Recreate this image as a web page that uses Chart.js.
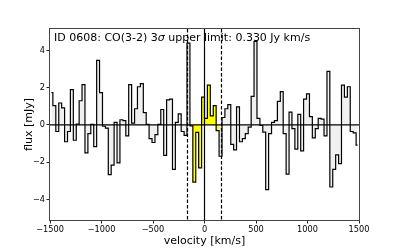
<!DOCTYPE html>
<html>
<head>
<meta charset="utf-8">
<script src="https://cdn.jsdelivr.net/npm/chart.js@4"></script>
<style>
  html, body { margin: 0; padding: 0; background: #fff; }
  canvas { display: block; }
</style>
</head>
<body>
<canvas id="spec" width="399" height="249"></canvas>
<script>
// channel centres [km/s]
const velocity = [
  -1486, -1458, -1429, -1401, -1373, -1344, -1316, -1288, -1259, -1231,
  -1203, -1175, -1146, -1118, -1090, -1061, -1033, -1005, -976, -948,
  -920, -892, -863, -835, -807, -778, -750, -722, -693, -665,
  -637, -608, -580, -552, -524, -495, -467, -439, -410, -382,
  -354, -325, -297, -269, -241, -212, -184, -156, -127, -99,
  -71, -42, -14, 14, 42, 71, 99, 127, 156, 184,
  212, 241, 269, 297, 325, 354, 382, 410, 439, 467,
  495, 524, 552, 580, 608, 637, 665, 693, 722, 750,
  778, 807, 835, 863, 892, 920, 948, 976, 1005, 1033,
  1061, 1090, 1118, 1146, 1175, 1203, 1231, 1259, 1288, 1316,
  1344, 1373, 1401, 1429, 1458, 1486
];

// flux density per channel [mJy]
const flux = [
  1.74, 1.04, -0.35, 1.18, 0.92, -0.90, -0.35, 1.90, -0.82, 0.05,
  1.30, 2.17, -1.50, -0.47, 0.03, -1.16, 3.47, 1.74, -0.07, -0.17,
  -2.67, -2.15, 0.14, -2.03, 0.28, 0.23, -0.59, 2.17, 0.10, 0.87,
  2.05, 2.22, 0.66, 0.03, -0.73, -0.94, -0.52, 0.03, 0.83, -1.63,
  1.35, 1.39, -2.38, 0.14, 0.60, -0.35, -0.56, 4.39, -0.05, -3.07,
  -0.40, -2.30, 1.49, 0.35, 2.14, 0.49, 1.04, -0.30, -1.68, 0.40,
  0.87, 1.09, -1.04, -1.34, 0.97, -0.90, -0.73, -0.47, -0.12, 1.53,
  4.48, 0.35, -0.03, -0.38, -3.47, -0.47, 0.14, 0.23, 1.27, 1.79,
  -0.47, -2.64, 0.69, -0.20, -1.30, 0.57, -1.39, 1.39, 1.67, 0.45,
  -0.69, -0.20, 0.35, 0.31, -0.59, 2.88, -3.33, -2.38, -1.60, -2.08,
  2.14, 1.49, 2.05, -0.35, -0.42, -1.08
];

const lineWindow = [-165, 165];   // dashed integration limits
const fillHalfWidth = 150;        // channels shaded yellow
const xTicks = [-1500, -1000, -500, 0, 500, 1000, 1500];
const yTicks = [-4, -2, 0, 2, 4];
const xRange = [-1500, 1500];
const yRange = [-5.1, 5.15];

const FONT = "'DejaVu Sans', sans-serif";
const minus = v => (v < 0 ? '\u2212' + Math.abs(v) : String(v));

const specPoints = velocity.map((v, i) => ({ x: v, y: flux[i] }));
const linePoints = velocity.map((v, i) => ({ x: v, y: Math.abs(v) < fillHalfWidth ? flux[i] : null }));

// zero line, velocity markers, frame and the label inside the axes
const overlays = {
    id: 'overlays',
    afterDatasetsDraw(chart) {
        const { ctx, chartArea: a, scales: { x, y } } = chart;
        ctx.save();
        ctx.beginPath();
        ctx.rect(a.left, a.top, a.width, a.height);
        ctx.clip();
        ctx.strokeStyle = '#000';
        ctx.lineWidth = 1.2;

        const y0 = y.getPixelForValue(0);
        ctx.beginPath();
        ctx.moveTo(a.left, y0);
        ctx.lineTo(a.right, y0);
        ctx.stroke();

        const x0 = x.getPixelForValue(0);
        ctx.beginPath();
        ctx.moveTo(x0, a.top);
        ctx.lineTo(x0, a.bottom);
        ctx.stroke();

        ctx.setLineDash([3.5, 2]);
        lineWindow.forEach(v => {
            const px = x.getPixelForValue(v);
            ctx.beginPath();
            ctx.moveTo(px, a.top);
            ctx.lineTo(px, a.bottom);
            ctx.stroke();
        });
        ctx.restore();

        // frame
        ctx.save();
        ctx.strokeStyle = '#444';
        ctx.lineWidth = 1;
        ctx.strokeRect(Math.round(a.left) - 0.5, Math.round(a.top) - 0.5,
                       Math.round(a.width) + 1, Math.round(a.height) + 1);

        // label
        ctx.fillStyle = '#000';
        ctx.textBaseline = 'alphabetic';
        let tx = a.left + 4;
        const ty = a.top + 12;
        [['ID 0608: CO(3-2) 3', ''], ['\u03c3', 'italic '], [' upper limit: 0.330 Jy km/s', '']].forEach(([s, st]) => {
            ctx.font = st + '11px ' + FONT;
            ctx.fillText(s, tx, ty);
            tx += ctx.measureText(s).width;
        });
        ctx.restore();
    }
};

new Chart(document.getElementById('spec'), {
    data: {
        datasets: [
            {
                type: 'line',
                data: specPoints,
                stepped: 'middle',
                borderColor: '#000',
                borderWidth: 1.2,
                pointRadius: 0,
                fill: 'origin',
                backgroundColor: 'rgba(0, 0, 0, 0.06)',
                order: 0
            },
            {
                type: 'bar',
                data: linePoints,
                backgroundColor: '#ffff00',
                borderWidth: 0,
                barPercentage: 1,
                categoryPercentage: 1,
                order: 1
            }
        ]
    },
    options: {
        responsive: false,
        animation: false,
        layout: { padding: { top: 29, right: 40, left: 0, bottom: 0 } },
        plugins: {
            legend: { display: false },
            tooltip: { enabled: false },
            filler: { drawTime: 'beforeDatasetsDraw' }
        },
        scales: {
            x: {
                type: 'linear',
                offset: false,
                min: xRange[0],
                max: xRange[1],
                afterBuildTicks: s => { s.ticks = xTicks.map(v => ({ value: v })); },
                afterFit: s => { s.height = 29; },
                grid: { drawOnChartArea: false, color: '#222', tickLength: 3.5, offset: false },
                border: { display: false },
                ticks: { font: { family: FONT, size: 8.2 }, color: '#000', padding: 1.5, maxRotation: 0, callback: minus },
                title: { display: true, text: 'velocity [km/s]', font: { family: FONT, size: 11 }, color: '#000', padding: { top: 0, bottom: 1.5 } }
            },
            y: {
                type: 'linear',
                min: yRange[0],
                max: yRange[1],
                afterBuildTicks: s => { s.ticks = yTicks.map(v => ({ value: v })); },
                afterFit: s => { s.width = 50; },
                grid: { drawOnChartArea: false, color: '#222', tickLength: 3.5 },
                border: { display: false },
                ticks: { font: { family: FONT, size: 8.2 }, color: '#000', padding: 1.5, callback: minus },
                title: { display: true, text: 'flux [mJy]', font: { family: FONT, size: 11 }, color: '#000', padding: { top: 23, bottom: 0 } }
            }
        }
    },
    plugins: [overlays]
});
</script>
</body>
</html>
